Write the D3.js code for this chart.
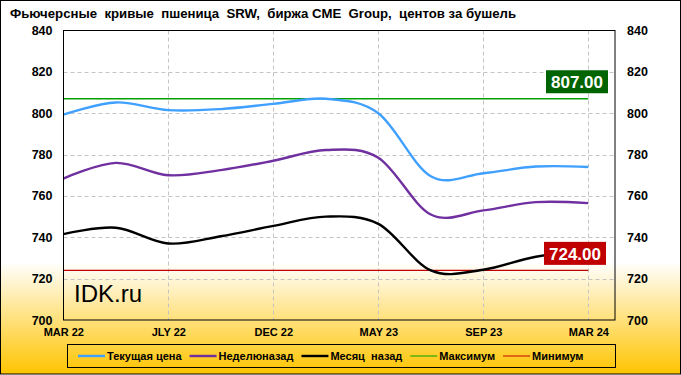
<!DOCTYPE html>
<html>
<head>
<meta charset="utf-8">
<script src="https://cdn.jsdelivr.net/npm/d3@7"></script>
<style>
  body { margin: 0; background: #fff; }
  svg text { font-family: "Liberation Sans", Arial, sans-serif; white-space: pre; }
</style>
</head>
<body>
<div id="chart"></div>
<script>
// contracts on the futures curve
var months = ["MAR 22", "MAY 22", "JLY 22", "SEP 22", "DEC 22", "MAR 23",
              "MAY 23", "JLY 23", "SEP 23", "DEC 23", "MAR 24"];
var current = [799.3, 805.2, 801.5, 802.0, 804.5, 807.0, 800.0, 769.5, 771.0, 774.2, 774.0];
var weekAgo = [768.4, 776.0, 770.0, 772.5, 777.0, 782.2, 778.5, 751.0, 753.0, 757.0, 756.5];
var monthAgo = [741.5, 744.6, 737.0, 740.5, 745.5, 750.0, 746.5, 724.0, 724.3, 730.6, 733.0];
var maxValue = 807.00;
var minValue = 724.00;
var yTicks = [700, 720, 740, 760, 780, 800, 820, 840];
var legendNames = ["Текущая цена", "Неделюназад", "Месяц  назад", "Максимум", "Минимум"];
var title = "Фьючерсные  кривые  пшеница  SRW,  биржа CME  Group,  центов за бушель";

(function () {
    "use strict";
    const width = 681, height = 375,
          left = 63.5, right = 615, top = 30.5, bottom = 320,
          lastX = 588.3;

    var svg = d3.select("#chart").append("svg")
        .attr("width", width)
        .attr("height", height);

    var defs = svg.append("defs");
    var grad = defs.append("linearGradient")
        .attr("id", "bg").attr("x1", 0).attr("y1", 0).attr("x2", 0).attr("y2", 1);
    grad.append("stop").attr("offset", "0").attr("stop-color", "#ffffff");
    grad.append("stop").attr("offset", "0.70").attr("stop-color", "#ffffff");
    grad.append("stop").attr("offset", "1").attr("stop-color", "#ffc400");

    svg.append("rect")
        .attr("x", 0.5).attr("y", 0.5)
        .attr("width", width - 1).attr("height", height - 1.5)
        .attr("fill", "url(#bg)")
        .attr("stroke", "#000");

    svg.append("text")
        .attr("x", 10).attr("y", 17.5)
        .style("font-size", "13.2px")
        .style("font-weight", "bold")
        .text(title);

    var x = d3.scaleLinear().domain([0, months.length - 1]).range([left - 0.2, lastX]);
    var y = d3.scaleLinear().domain([700, 840]).range([bottom, top]);

    // horizontal gridlines
    svg.append("g").selectAll("line")
        .data(yTicks.filter(function (d) { return d > 700 && d < 840; }))
        .enter().append("line")
        .attr("x1", left).attr("x2", right)
        .attr("y1", function (d) { return Math.round(y(d)) + 0.5; })
        .attr("y2", function (d) { return Math.round(y(d)) + 0.5; })
        .attr("stroke", "#c4c4c4")
        .attr("stroke-dasharray", "4,3");

    // vertical gridlines on labelled months
    var shown = d3.range(2, months.length, 2);
    svg.append("g").selectAll("line")
        .data(shown)
        .enter().append("line")
        .attr("x1", function (d) { return Math.round(x(d)) + 0.5; })
        .attr("x2", function (d) { return Math.round(x(d)) + 0.5; })
        .attr("y1", top).attr("y2", bottom)
        .attr("stroke", "#c4c4c4")
        .attr("stroke-dasharray", "4,3");

    // y axes, both sides
    var axisL = svg.append("g")
        .attr("transform", "translate(" + (left - 11) + ",0)")
        .call(d3.axisLeft(y).tickValues(yTicks).tickSize(0).tickPadding(0));
    var axisR = svg.append("g")
        .attr("transform", "translate(" + (right + 12) + ",0)")
        .call(d3.axisRight(y).tickValues(yTicks).tickSize(0).tickPadding(0));
    [axisL, axisR].forEach(function (a) {
        a.select(".domain").remove();
        a.selectAll("text")
            .style("font-family", "'Liberation Sans', Arial, sans-serif")
            .style("font-size", "12.5px")
            .style("font-weight", "bold")
            .attr("fill", "#000");
    });

    // x axis labels
    var axisX = svg.append("g")
        .attr("transform", "translate(0," + (bottom + 8) + ")")
        .call(d3.axisBottom(x)
            .tickValues(d3.range(0, months.length, 2))
            .tickFormat(function (d) { return months[d]; })
            .tickSize(0).tickPadding(0));
    axisX.select(".domain").remove();
    axisX.selectAll("text")
        .style("font-family", "'Liberation Sans', Arial, sans-serif")
        .style("font-size", "11px")
        .style("font-weight", "bold")
        .attr("fill", "#000");

    svg.append("text")
        .attr("x", 74).attr("y", 301.5)
        .style("font-size", "24px")
        .text("IDK.ru");

    // max / min reference lines
    svg.append("line")
        .attr("x1", x(0)).attr("x2", x(months.length - 1))
        .attr("y1", y(maxValue)).attr("y2", y(maxValue))
        .attr("stroke", "#00a000").attr("stroke-width", 1.3);
    svg.append("line")
        .attr("x1", x(0)).attr("x2", x(months.length - 1))
        .attr("y1", y(minValue)).attr("y2", y(minValue))
        .attr("stroke", "#c00000").attr("stroke-width", 1.3);

    var line = d3.line()
        .x(function (d, i) { return x(i); })
        .y(function (d) { return y(d); })
        .curve(d3.curveCatmullRom.alpha(0));

    var series = [
        { values: current, color: "#3fa0ff" },
        { values: weekAgo, color: "#7030a0" },
        { values: monthAgo, color: "#000000" }
    ];
    svg.append("g").selectAll("path")
        .data(series)
        .enter().append("path")
        .attr("d", function (d) { return line(d.values); })
        .attr("fill", "none")
        .attr("stroke", function (d) { return d.color; })
        .attr("stroke-width", 2.4);

    // plot border
    svg.append("rect")
        .attr("x", left).attr("y", top)
        .attr("width", right - left).attr("height", bottom - top)
        .attr("fill", "none").attr("stroke", "#000");

    // value tags for max and min
    function tag(value, color, cx) {
        var g = svg.append("g");
        var t = g.append("text")
            .attr("x", cx).attr("y", y(value) - 10.5)
            .attr("text-anchor", "middle")
            .style("font-size", "17px")
            .style("font-weight", "bold")
            .attr("fill", "#fff")
            .text(value.toFixed(2));
        var w = t.node().getComputedTextLength() + 10;
        g.insert("rect", "text")
            .attr("x", cx - w / 2).attr("y", y(value) - 28.5)
            .attr("width", w).attr("height", 23)
            .attr("fill", color);
    }
    tag(maxValue, "#006400", 577);
    tag(minValue, "#c00000", 575);

    // legend
    var legendColors = ["#3fa0ff", "#7030a0", "#000000", "#00a000", "#c00000"];
    var legendWidths = [2.4, 2.4, 2.4, 1, 1];
    svg.append("rect")
        .attr("x", 67.5).attr("y", 344.5)
        .attr("width", 548).attr("height", 23)
        .attr("fill", "none").attr("stroke", "#000");
    var lx = 78;
    legendNames.forEach(function (name, i) {
        svg.append("line")
            .attr("x1", lx).attr("x2", lx + 27)
            .attr("y1", 356).attr("y2", 356)
            .attr("stroke", legendColors[i])
            .attr("stroke-width", legendWidths[i]);
        var t = svg.append("text")
            .attr("x", lx + 29).attr("y", 360)
            .style("font-size", "11px")
            .style("font-weight", "bold")
            .text(name);
        lx += 29 + t.node().getComputedTextLength() + 8;
    });
})();
</script>
</body>
</html>
